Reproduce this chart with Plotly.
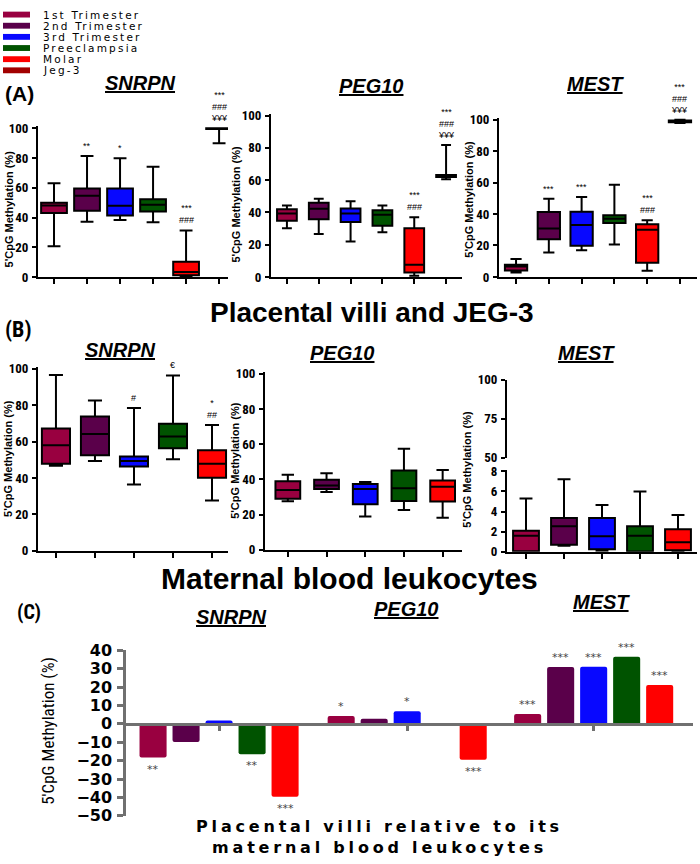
import plotly.graph_objects as go

W, H = 700, 864

# ---------------- data ----------------
groups = ["1st Trimester", "2nd Trimester", "3rd Trimester", "Preeclampsia", "Molar", "Jeg-3"]
group_colors = ["#990040", "#5a004a", "#0808ff", "#005300", "#ff0000", "#a20000"]

# Panel A: placental villi and JEG-3 (box statistics, % 5'CpG methylation)
a_snrpn_lo = [20.6, 37.2, 38.3, 36.8, 0.4, 90.0]
a_snrpn_q1 = [43.0, 44.6, 41.4, 44.0, 1.1, 99.6]
a_snrpn_med = [48.0, 54.7, 47.9, 48.6, 3.3, 100.0]
a_snrpn_q3 = [50.0, 59.5, 59.5, 52.3, 10.3, 100.0]
a_snrpn_hi = [63.0, 81.4, 79.9, 74.2, 31.3, 100.0]
a_snrpn_sig = ["", "**", "*", "", "***<br>###", "***<br>###<br>¥¥¥"]

a_peg10_lo = [30.2, 26.7, 22.0, 27.7, 0.8, 60.5]
a_peg10_q1 = [34.8, 35.8, 34.0, 31.8, 2.8, 62.0]
a_peg10_med = [39.3, 42.3, 39.3, 38.5, 7.5, 62.5]
a_peg10_q3 = [41.9, 46.0, 42.5, 41.3, 30.2, 63.2]
a_peg10_hi = [44.3, 48.5, 47.0, 44.3, 37.0, 81.8]
a_peg10_sig = ["", "", "", "", "***<br>###", "***<br>###<br>¥¥¥"]

a_mest_lo = [2.9, 15.5, 17.0, 20.7, 4.0, 97.8]
a_mest_q1 = [4.1, 23.9, 19.9, 34.2, 9.0, 98.2]
a_mest_med = [6.6, 30.8, 33.0, 37.0, 30.0, 98.8]
a_mest_q3 = [7.7, 41.3, 41.5, 39.2, 33.5, 99.4]
a_mest_hi = [11.4, 49.6, 50.8, 58.5, 36.0, 99.8]
a_mest_sig = ["", "***", "***", "", "***<br>###", "***<br>###<br>¥¥¥"]

# Panel B: maternal blood leukocytes
b_snrpn_lo = [46.7, 49.4, 36.5, 50.3, 27.7]
b_snrpn_q1 = [47.9, 52.6, 46.3, 56.4, 40.1]
b_snrpn_med = [58.0, 64.2, 49.4, 62.8, 47.9]
b_snrpn_q3 = [67.3, 73.9, 51.9, 69.8, 55.3]
b_snrpn_hi = [96.6, 82.6, 78.5, 96.4, 69.2]
b_snrpn_sig = ["", "", "#", "€", "*<br>##"]

b_peg10_lo = [27.6, 32.8, 19.0, 22.6, 18.3]
b_peg10_q1 = [29.0, 34.6, 25.9, 27.8, 27.4]
b_peg10_med = [34.0, 36.5, 34.6, 35.0, 35.9]
b_peg10_q3 = [39.0, 39.8, 37.4, 45.0, 39.4]
b_peg10_hi = [42.6, 43.5, 38.5, 57.4, 45.4]

b_mest_lo = [0.0, 0.6, 0.1, 0.0, 0.05]
b_mest_q1 = [0.05, 0.7, 0.25, 0.03, 0.15]
b_mest_med = [1.6, 2.55, 1.55, 1.6, 0.95]
b_mest_q3 = [2.1, 3.35, 3.35, 2.55, 2.25]
b_mest_hi = [5.3, 7.2, 4.65, 6.0, 3.65]

# Panel C: placental villi relative to maternal blood leukocytes (difference, %)
c_genes = ["SNRPN", "PEG10", "MEST"]
c_snrpn = [-18.3, -9.8, 1.8, -16.5, -39.6]
c_peg10 = [4.3, 2.8, 6.9, -0.4, -19.5]
c_mest = [5.3, 30.9, 31.0, 36.5, 21.1]
c_snrpn_sig = ["**", "", "", "**", "***"]
c_peg10_sig = ["*", "", "*", "", "***"]
c_mest_sig = ["***", "***", "***", "***", "***"]

# ---------------- styling helpers ----------------
NARROW = "Liberation Sans Narrow, Roboto Condensed, DejaVu Sans Condensed, Arial Narrow, sans-serif"
ARIAL = "Liberation Sans, Arial, sans-serif"
WIDE = "DejaVu Sans, Verdana, sans-serif"
TICK_AB = dict(family=NARROW, size=13, color="black", weight="bold")
SIG_FONT = dict(family=ARIAL, size=9, color="black")
YT_FONT = dict(family=ARIAL, size=11, color="black", weight="bold")
GENE_FONT = dict(family=ARIAL, size=20, color="black")

fig = go.Figure()
annotations = []
shapes = []
layout_axes = {}


def px_x(px):
    return px / W


def px_y(py):
    return 1 - py / H


def ydom(py_a, va, py_b, vb, rmin, rmax):
    s = (py_a - py_b) / (vb - va)
    bottom = py_a + (va - rmin) * s
    top = py_a - (rmax - va) * s
    return [px_y(bottom), px_y(top)]


def names(n):
    return ("x", "y") if n == 1 else (f"x{n}", f"y{n}")


def keys(n):
    return ("xaxis", "yaxis") if n == 1 else (f"xaxis{n}", f"yaxis{n}")


def box_panel(n, xpx, xr, ydomain, yr, yticks, stats, bw, sig):
    xa, ya = names(n)
    xk, yk = keys(n)
    lo, q1, med, q3, hi = stats
    for i in range(len(lo)):
        fill = group_colors[i] if groups[i] != "Jeg-3" else "rgba(255,255,255,0)"
        fig.add_trace(go.Box(
            x=[i], lowerfence=[lo[i]], q1=[q1[i]], median=[med[i]], q3=[q3[i]],
            upperfence=[hi[i]], fillcolor=fill, line=dict(color="black", width=2),
            width=bw, whiskerwidth=0.5, boxpoints=False, name=groups[i],
            showlegend=False, hoverinfo="skip", xaxis=xa, yaxis=ya))
        if sig and sig[i]:
            annotations.append(dict(x=i, y=hi[i], xref=xa, yref=ya, text=sig[i],
                                    showarrow=False, yanchor="bottom", yshift=3,
                                    font=SIG_FONT))
    layout_axes[xk] = dict(domain=[px_x(xpx[0]), px_x(xpx[1])], range=xr, anchor=ya,
                           showline=True, linecolor="black", linewidth=2,
                           ticks="outside", ticklen=5, tickwidth=2, tickcolor="black",
                           tickvals=list(range(len(lo))), showticklabels=False,
                           showgrid=False, zeroline=False, fixedrange=True)
    layout_axes[yk] = dict(domain=ydomain, range=yr, anchor=xa,
                           showline=True, linecolor="black", linewidth=2,
                           ticks="outside", ticklen=4, tickwidth=2, tickcolor="black",
                           tickvals=yticks, tickfont=TICK_AB, ticklabelstandoff=1,
                           showgrid=False, zeroline=False, fixedrange=True)


# ---------- Panel A ----------
box_panel(1, (38, 228), [-0.485, 5.27], ydom(274, 0, 122, 100, 0, 101.5), [0, 101.5],
          [0, 20, 40, 60, 80, 100],
          (a_snrpn_lo, a_snrpn_q1, a_snrpn_med, a_snrpn_q3, a_snrpn_hi), 0.78, a_snrpn_sig)
box_panel(2, (271, 462), [-0.5, 5.5], ydom(274, 0, 109, 100, 0, 101), [0, 101],
          [0, 20, 40, 60, 80, 100],
          (a_peg10_lo, a_peg10_q1, a_peg10_med, a_peg10_q3, a_peg10_hi), 0.62, a_peg10_sig)
box_panel(3, (499, 697), [-0.52, 5.52], ydom(274, 0, 113, 100, 0, 101), [0, 101],
          [0, 20, 40, 60, 80, 100],
          (a_mest_lo, a_mest_q1, a_mest_med, a_mest_q3, a_mest_hi), 0.68, a_mest_sig)

# ---------- Panel B ----------
box_panel(4, (38, 228), [-0.46, 4.41], ydom(554, 0, 368, 100, 0, 101), [0, 101],
          [0, 20, 40, 60, 80, 100],
          (b_snrpn_lo, b_snrpn_q1, b_snrpn_med, b_snrpn_q3, b_snrpn_hi), 0.72, b_snrpn_sig)
box_panel(5, (265, 462), [-0.59, 4.5], ydom(553, 0, 373, 100, 0, 101), [0, 101],
          [0, 20, 40, 60, 80, 100],
          (b_peg10_lo, b_peg10_q1, b_peg10_med, b_peg10_q3, b_peg10_hi), 0.64, None)
box_panel(6, (507, 697), [-0.5, 4.5], ydom(555, 0, 472.7, 8, 0, 8.1), [0, 8.1],
          [0, 2, 4, 6, 8],
          (b_mest_lo, b_mest_q1, b_mest_med, b_mest_q3, b_mest_hi), 0.68, None)

# broken-axis upper part for MEST (B)
fig.add_trace(go.Scatter(x=[None], y=[None], xaxis="x7", yaxis="y7", showlegend=False,
                         hoverinfo="skip"))
layout_axes["xaxis7"] = dict(domain=[px_x(507), px_x(697)], range=[-0.5, 4.5], anchor="y7",
                             visible=False, fixedrange=True)
layout_axes["yaxis7"] = dict(domain=ydom(459, 50, 379, 100, 50, 100), range=[50, 100],
                             anchor="x7", showline=True, linecolor="black", linewidth=2,
                             ticks="outside", ticklen=4, tickwidth=2, tickcolor="black",
                             tickvals=[50, 75, 100], tickfont=TICK_AB, ticklabelstandoff=1,
                             showgrid=False, zeroline=False, fixedrange=True)

# ---------- Panel C ----------
group_gap = [0.0, 5.7, 11.35]
c_values = [c_snrpn, c_peg10, c_mest]
c_sigs = [c_snrpn_sig, c_peg10_sig, c_mest_sig]
for g, (vals, sigs) in enumerate(zip(c_values, c_sigs)):
    for i, v in enumerate(vals):
        xpos = group_gap[g] + i
        fig.add_trace(go.Bar(x=[xpos], y=[v], width=0.82, marker=dict(color=group_colors[i],
                             line=dict(width=0), cornerradius=2),
                             showlegend=False, hoverinfo="skip", xaxis="x8", yaxis="y8"))
        if sigs[i]:
            annotations.append(dict(x=xpos, y=v, xref="x8", yref="y8", text=sigs[i],
                                    showarrow=False,
                                    yanchor="bottom" if v >= 0 else "top",
                                    yshift=1 if v >= 0 else -3,
                                    font=dict(family=WIDE, size=11, color="#444")))

c_ydom = ydom(655.7, 40, 825, -50, -50, 40)
zero_pos = c_ydom[0] + (0 - (-50)) / 90 * (c_ydom[1] - c_ydom[0])
layout_axes["xaxis8"] = dict(domain=[px_x(126), px_x(693)], range=[-0.82, 16.36],
                             anchor="free", position=zero_pos,
                             showline=True, linecolor="#707070", linewidth=2.5,
                             ticks="outside", ticklen=5, tickwidth=2.5, tickcolor="#707070",
                             tickvals=[gg + 2 for gg in group_gap], showticklabels=False,
                             showgrid=False, zeroline=False, fixedrange=True)
layout_axes["yaxis8"] = dict(domain=c_ydom, range=[-50, 40], anchor="x8",
                             showline=True, linecolor="#707070", linewidth=2.5,
                             ticks="outside", ticklen=6, tickwidth=2.5, tickcolor="#707070",
                             tickvals=list(range(-50, 41, 10)),
                             tickfont=dict(family=WIDE, size=16, color="black", weight="bold"),
                             ticklabelstandoff=2,
                             showgrid=False, zeroline=False, fixedrange=True)


# ---------- text annotations ----------
def text_ann(px, py, text, font, angle=0, xanchor="center", align="center"):
    annotations.append(dict(x=px_x(px), y=px_y(py), xref="paper", yref="paper", text=text,
                            showarrow=False, font=font, textangle=angle, align=align,
                            xanchor=xanchor, yanchor="middle", borderpad=0))


ytitle = "5'CpG Methylation (%)"
for (px, py) in [(9, 205), (236, 200), (469, 195), (8, 460), (235, 461), (467, 471)]:
    text_ann(px, py, ytitle, YT_FONT, angle=-90)
text_ann(48, 738, ytitle, dict(family=NARROW, size=17, color="black"), angle=-90)

for (px, py, g) in [(140, 76, "SNRPN"), (371, 79, "PEG10"), (595, 77, "MEST"),
                    (120, 349, "SNRPN"), (342, 352, "PEG10"), (586, 352, "MEST"),
                    (232, 622, "SNRPN"), (406, 614, "PEG10"), (601, 606, "MEST")]:
    text_ann(px, py, f"<b><i><u>{g}</u></i></b>", GENE_FONT)

PANEL_FONT = dict(family=ARIAL, size=21, color="black", weight="bold")
text_ann(4, 86, "(A)", PANEL_FONT, xanchor="left")
text_ann(4, 328, "(B)", dict(family=NARROW, size=22, color="black", weight="bold"), xanchor="left")
text_ann(16, 617, "(C)", dict(family=NARROW, size=20, color="black", weight="bold"), xanchor="left")

text_ann(372, 310, "Placental villi and JEG-3",
         dict(family=ARIAL, size=28, color="black", weight="bold"))
text_ann(349, 582, "Maternal blood leukocytes",
         dict(family=ARIAL, size=30, color="black", weight="bold"))

text_ann(380, 847, "Placental villi relative to its<br>maternal blood leukocytes",
         dict(family=WIDE, size=16, color="black", weight="bold"))

# legend (swatch + label per group)
for i, (name, col) in enumerate(zip(groups, group_colors)):
    cy = 5.7 + 11.4 * i
    shapes.append(dict(type="rect", xref="paper", yref="paper",
                       x0=px_x(3), x1=px_x(30), y0=px_y(cy + 3), y1=px_y(cy - 3),
                       fillcolor=col, line=dict(width=0)))
    text_ann(42, cy, name, dict(family=WIDE, size=10.5, color="black"),
             xanchor="left", align="left")

fig.update_layout(
    width=W, height=H, autosize=False,
    margin=dict(l=0, r=0, t=0, b=0),
    paper_bgcolor="white", plot_bgcolor="white",
    boxmode="overlay", barmode="overlay",
    showlegend=False,
    annotations=annotations, shapes=shapes,
    **layout_axes,
)

legend_js = ",".join("'" + g + "'" for g in groups)
post_js = """
document.body.style.margin = '0px';
var legendNames = [%s];
document.querySelectorAll('text.annotation-text').forEach(function (t) {
  var s = t.textContent;
  if (legendNames.indexOf(s) >= 0) { t.style.letterSpacing = '2.2px'; }
  if (s.indexOf('Placental villi relative') === 0) { t.style.letterSpacing = '3.8px'; }
});
""" % legend_js

fig.write_html("out.html", config={"displayModeBar": False}, post_script=post_js)
